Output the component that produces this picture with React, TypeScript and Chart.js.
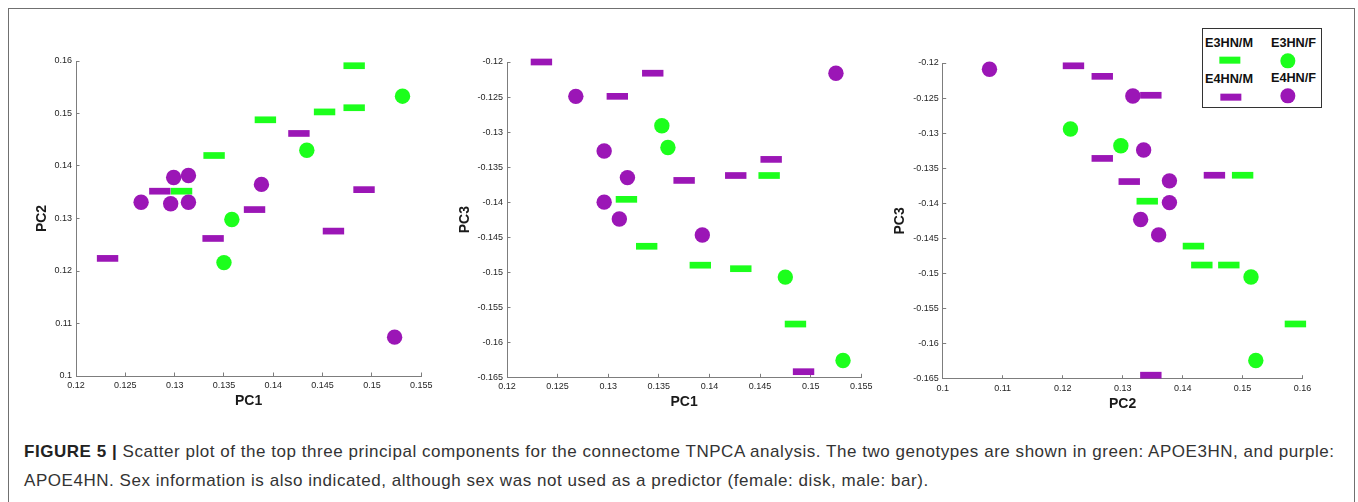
import React, { useEffect, useRef } from "react";
import { Chart, registerables } from "chart.js";

Chart.register(...registerables);

// ---------- data ----------
const GREEN = "#1cff1c";
const PURPLE = "#9b16b6";

const PC1_TICKS = [0.12, 0.125, 0.13, 0.135, 0.14, 0.145, 0.15, 0.155];
const PC2_TICKS_Y = [0.1, 0.11, 0.12, 0.13, 0.14, 0.15, 0.16];
const PC2_TICKS_X = [0.1, 0.11, 0.12, 0.13, 0.14, 0.15, 0.16];
const PC3_TICKS = [-0.165, -0.16, -0.155, -0.15, -0.145, -0.14, -0.135, -0.13, -0.125, -0.12];

// Plot 1: PC1 (x) vs PC2 (y)
const P1_E3M_X = [0.1482, 0.1482, 0.1452, 0.1392, 0.134, 0.1307];
const P1_E3M_Y = [0.1591, 0.1511, 0.1503, 0.1488, 0.142, 0.1352];
const P1_E3F_X = [0.1531, 0.1434, 0.1358, 0.135];
const P1_E3F_Y = [0.1533, 0.143, 0.1298, 0.1216];
const P1_E4M_X = [0.1426, 0.1492, 0.1285, 0.1381, 0.1461, 0.1339, 0.1232];
const P1_E4M_Y = [0.1462, 0.1355, 0.1352, 0.1317, 0.1276, 0.1262, 0.1224];
const P1_E4F_X = [0.1299, 0.1314, 0.1388, 0.1266, 0.1296, 0.1314, 0.1523];
const P1_E4F_Y = [0.1378, 0.1382, 0.1365, 0.1331, 0.1328, 0.1331, 0.1074];

// Plot 2: PC1 (x) vs PC3 (y)
const P2_E3M_X = [0.1318, 0.1338, 0.1391, 0.1431, 0.1459, 0.1485];
const P2_E3M_Y = [-0.1396, -0.1463, -0.149, -0.1495, -0.1362, -0.1574];
const P2_E3F_X = [0.1353, 0.1359, 0.1475, 0.1532];
const P2_E3F_Y = [-0.1291, -0.1322, -0.1507, -0.1626];
const P2_E4M_X = [0.1234, 0.1344, 0.1309, 0.1461, 0.1426, 0.1375, 0.1493];
const P2_E4M_Y = [-0.12, -0.1216, -0.1249, -0.1339, -0.1362, -0.1369, -0.1642];
const P2_E4F_X = [0.1525, 0.1268, 0.1296, 0.1319, 0.1296, 0.1311, 0.1393];
const P2_E4F_Y = [-0.1216, -0.1249, -0.1327, -0.1365, -0.14, -0.1424, -0.1447];

// Plot 3: PC2 (x) vs PC3 (y)
const P3_E3M_X = [0.15, 0.1341, 0.1418, 0.1432, 0.1477, 0.1588];
const P3_E3M_Y = [-0.136, -0.1397, -0.1461, -0.1488, -0.1488, -0.1572];
const P3_E3F_X = [0.1213, 0.1297, 0.1514, 0.1522];
const P3_E3F_Y = [-0.1294, -0.1318, -0.1505, -0.1624];
const P3_E4M_X = [0.1218, 0.1266, 0.1347, 0.1266, 0.1311, 0.1453, 0.1347];
const P3_E4M_Y = [-0.1204, -0.1219, -0.1246, -0.1336, -0.1369, -0.136, -0.1645];
const P3_E4F_X = [0.1078, 0.1317, 0.1335, 0.1378, 0.1378, 0.133, 0.136];
const P3_E4F_Y = [-0.1209, -0.1247, -0.1324, -0.1368, -0.1399, -0.1423, -0.1445];

const LEGEND_LABELS = ["E3HN/M", "E3HN/F", "E4HN/M", "E4HN/F"];
const CAPTION_BOLD = "FIGURE 5 |";
const CAPTION_LINE1 =
  " Scatter plot of the top three principal components for the connectome TNPCA analysis. The two genotypes are shown in green: APOE3HN, and purple:";
const CAPTION_LINE2 =
  "APOE4HN. Sex information is also indicated, although sex was not used as a predictor (female: disk, male: bar).";

// ---------- helpers ----------
const FONT = "'Liberation Sans', Arial, Helvetica, sans-serif";
const AXIS = "#7d7d7d";
const fmt = (v: number) => String(+Number(v).toFixed(4));
const pts = (xs: number[], ys: number[]) => xs.map((x, i) => ({ x, y: ys[i] }));

const barSet = (label: string, color: string, xs: number[], ys: number[], order: number) => ({
  label,
  data: pts(xs, ys),
  pointStyle: "line",
  pointRadius: 10.7,
  borderWidth: 6.7,
  borderColor: color,
  backgroundColor: color,
  order,
  clip: false,
});
const diskSet = (label: string, color: string, xs: number[], ys: number[], order: number) => ({
  label,
  data: pts(xs, ys),
  pointStyle: "circle",
  pointRadius: 7.7,
  borderWidth: 0,
  backgroundColor: color,
  borderColor: color,
  order,
  clip: false,
});

type Cfg = {
  left: number;
  width: number;
  height: number;
  area: { l: number; r: number; t: number; b: number };
  xTicks: number[];
  yTicks: number[];
  xTitle: string;
  yTitle: string;
  yTitleX: number;
  xTitleY: number;
  sets: any[];
};

const axis = (ticks: number[], title: string, titlePad: any, fit: (s: any) => void) => ({
  type: "linear",
  min: ticks[0],
  max: ticks[ticks.length - 1],
  afterBuildTicks: (s: any) => {
    s.ticks = ticks.map((v) => ({ value: v }));
  },
  afterFit: fit,
  ticks: {
    callback: (v: any) => fmt(v),
    font: { family: FONT, size: 9 },
    color: "#262626",
    padding: 7.5,
    autoSkip: false,
    maxRotation: 0,
    minRotation: 0,
  },
  grid: { drawOnChartArea: false, drawTicks: true, tickLength: -3.5, color: AXIS, lineWidth: 1 },
  border: { display: true, color: AXIS, width: 1 },
  title: {
    display: true,
    text: title,
    font: { family: FONT, size: 14, weight: "bold" },
    color: "#1a1a1a",
    padding: titlePad,
  },
});

function ScatterPanel({ cfg }: { cfg: Cfg }) {
  const ref = useRef<HTMLCanvasElement | null>(null);
  useEffect(() => {
    if (!ref.current) return;
    const { area, width, height } = cfg;
    const lh = 14 * 1.2;
    const chart = new Chart(ref.current, {
      type: "scatter",
      data: { datasets: cfg.sets },
      options: {
        animation: false,
        responsive: false,
        events: [],
        layout: { padding: { left: 0, top: area.t, right: width - area.r, bottom: 0 } },
        plugins: { legend: { display: false }, tooltip: { enabled: false } },
        scales: {
          x: axis(
            cfg.xTicks,
            cfg.xTitle,
            { top: 0, bottom: height - lh / 2 - cfg.xTitleY },
            (s: any) => {
              s.height = height - area.b;
            }
          ),
          y: axis(
            cfg.yTicks,
            cfg.yTitle,
            { top: cfg.yTitleX - lh / 2, bottom: 0 },
            (s: any) => {
              s.width = area.l;
            }
          ),
        },
      } as any,
    });
    return () => chart.destroy();
  }, [cfg]);
  return (
    <canvas
      ref={ref}
      width={cfg.width}
      height={cfg.height}
      style={{ position: "absolute", left: cfg.left, top: 0, width: cfg.width, height: cfg.height }}
    />
  );
}

const makeSets = (
  e3mx: number[], e3my: number[], e3fx: number[], e3fy: number[],
  e4mx: number[], e4my: number[], e4fx: number[], e4fy: number[]
) => [
  barSet(LEGEND_LABELS[0], GREEN, e3mx, e3my, 3),
  diskSet(LEGEND_LABELS[1], GREEN, e3fx, e3fy, 2),
  barSet(LEGEND_LABELS[2], PURPLE, e4mx, e4my, 4),
  diskSet(LEGEND_LABELS[3], PURPLE, e4fx, e4fy, 1),
];

const PANELS: Cfg[] = [
  {
    left: 0, width: 440, height: 420,
    area: { l: 76, r: 435, t: 61, b: 376 },
    xTicks: PC1_TICKS, yTicks: PC2_TICKS_Y, xTitle: "PC1", yTitle: "PC2",
    yTitleX: 42.5, xTitleY: 400.7,
    sets: makeSets(P1_E3M_X, P1_E3M_Y, P1_E3F_X, P1_E3F_Y, P1_E4M_X, P1_E4M_Y, P1_E4F_X, P1_E4F_Y),
  },
  {
    left: 440, width: 440, height: 420,
    area: { l: 67, r: 426.3, t: 62, b: 377.3 },
    xTicks: PC1_TICKS, yTicks: PC3_TICKS, xTitle: "PC1", yTitle: "PC3",
    yTitleX: 25, xTitleY: 402,
    sets: makeSets(P2_E3M_X, P2_E3M_Y, P2_E3F_X, P2_E3F_Y, P2_E4M_X, P2_E4M_Y, P2_E4F_X, P2_E4F_Y),
  },
  {
    left: 880, width: 440, height: 420,
    area: { l: 62.7, r: 423.7, t: 63, b: 378.7 },
    xTicks: PC2_TICKS_X, yTicks: PC3_TICKS, xTitle: "PC2", yTitle: "PC3",
    yTitleX: 20.5, xTitleY: 404,
    sets: makeSets(P3_E3M_X, P3_E3M_Y, P3_E3F_X, P3_E3F_Y, P3_E4M_X, P3_E4M_Y, P3_E4F_X, P3_E4F_Y),
  },
];

const abs = (s: React.CSSProperties): React.CSSProperties => ({ position: "absolute", ...s });
const centered = (x: number, y: number, s: React.CSSProperties = {}): React.CSSProperties =>
  abs({ left: x, top: y, transform: "translate(-50%, -50%)", ...s });

function Legend() {
  const text: React.CSSProperties = {
    fontFamily: FONT, fontWeight: "bold", fontSize: 12.7, color: "#111", whiteSpace: "nowrap", lineHeight: 1,
  };
  const bar = (c: string): React.CSSProperties => ({ width: 21.3, height: 6.7, background: c });
  const disk = (c: string): React.CSSProperties => ({ width: 15.3, height: 15.3, borderRadius: "50%", background: c });
  return (
    <>
      <div style={abs({ left: 1201.7, top: 28, width: 120.6, height: 80.3, border: "1.3px solid #333", boxSizing: "border-box", background: "#fff" })} />
      <div style={centered(1229, 43, text)}>{LEGEND_LABELS[0]}</div>
      <div style={centered(1293.5, 43, text)}>{LEGEND_LABELS[1]}</div>
      <div style={centered(1230, 60.3, bar(GREEN))} />
      <div style={centered(1287.7, 60.7, disk(GREEN))} />
      <div style={centered(1229, 79, text)}>{LEGEND_LABELS[2]}</div>
      <div style={centered(1293.5, 77.7, text)}>{LEGEND_LABELS[3]}</div>
      <div style={centered(1231, 97, bar(PURPLE))} />
      <div style={centered(1288, 96, disk(PURPLE))} />
    </>
  );
}

export default function App() {
  const cap: React.CSSProperties = {
    fontFamily: FONT, fontSize: 17, letterSpacing: "0.54px", color: "#333", whiteSpace: "nowrap", lineHeight: "20px",
  };
  return (
    <div style={abs({ left: 0, top: 0, width: 1358, height: 502, overflow: "hidden", background: "#fff" })}>
      <div
        style={abs({
          left: 8, top: 8, width: 1347, height: 494, boxSizing: "border-box",
          borderTop: "1.5px solid #707070", borderLeft: "1.5px solid #707070", borderRight: "1.5px solid #707070",
        })}
      />
      {PANELS.map((p, i) => (
        <ScatterPanel key={i} cfg={p} />
      ))}
      <Legend />
      <div style={abs({ left: 24, top: 442, ...cap })}>
        <b style={{ color: "#222" }}>{CAPTION_BOLD}</b>
        {CAPTION_LINE1}
      </div>
      <div style={abs({ left: 24, top: 471, ...cap })}>{CAPTION_LINE2}</div>
    </div>
  );
}
